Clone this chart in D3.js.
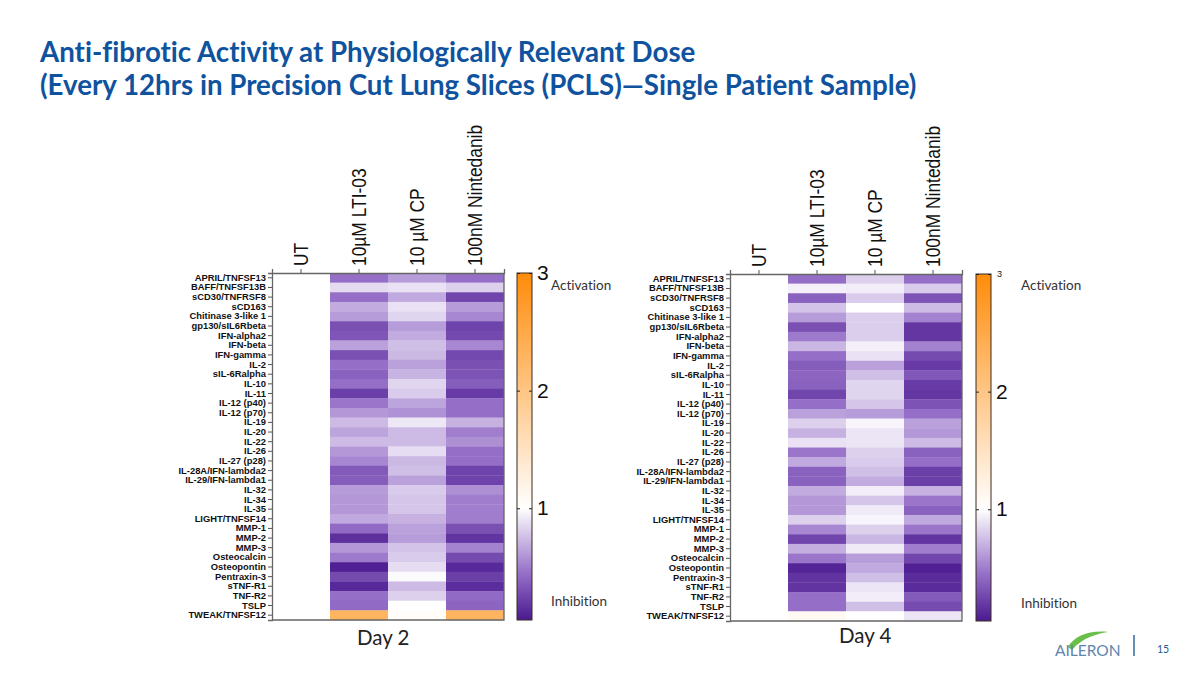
<!doctype html>
<meta charset="utf-8">

<style>
    html, body {
        margin: 0;
        background: #fff;
    }

    svg {
        display: block;
    }

    text {
        font-variant-ligatures: none;
    }

    .title {
        font-family: Lato, sans-serif;
        font-weight: 700;
        font-size: 27.7px;
        fill: #0f539f;
    }

    .note {
        font-family: Lato, sans-serif;
        font-size: 13.5px;
        fill: #333;
    }

    .day {
        font-family: Lato, sans-serif;
        font-size: 20.5px;
        fill: #222;
    }

    .rows text {
        font-family: "Liberation Sans", sans-serif;
        font-weight: 700;
        font-size: 9.4px;
        fill: #111;
    }

    .cols text {
        font-family: "Liberation Sans", sans-serif;
        font-size: 17.4px;
        fill: #111;
    }

    .bar-axis text {
        font-family: "Liberation Sans", sans-serif;
        font-size: 21px;
        fill: #111;
    }
</style>

<svg id="chart" width="1200" height="675"></svg>

<script src="https://d3js.org/d3.v7.min.js"></script>

<script>

let rowNames = ["APRIL/TNFSF13", "BAFF/TNFSF13B", "sCD30/TNFRSF8", "sCD163", "Chitinase 3-like 1",
    "gp130/sIL6Rbeta", "IFN-alpha2", "IFN-beta", "IFN-gamma", "IL-2", "sIL-6Ralpha", "IL-10", "IL-11",
    "IL-12 (p40)", "IL-12 (p70)", "IL-19", "IL-20", "IL-22", "IL-26", "IL-27 (p28)", "IL-28A/IFN-lambda2",
    "IL-29/IFN-lambda1", "IL-32", "IL-34", "IL-35", "LIGHT/TNFSF14", "MMP-1", "MMP-2", "MMP-3",
    "Osteocalcin", "Osteopontin", "Pentraxin-3", "sTNF-R1", "TNF-R2", "TSLP", "TWEAK/TNFSF12"]

let colNames = ["UT", "10µM LTI-03", "10 µM CP", "100nM Nintedanib"]

let barTicks = [1, 2, 3]

let ut = rowNames.map(() => 1)

let day2Lti = [.44, .86, .44, .68, .62, .30, .33, .64, .30, .44, .38, .44, .22, .47, .60, .74, .65, .74,
    .60, .54, .35, .36, .62, .60, .60, .67, .42, .15, .60, .49, .08, .28, .12, .44, .42, 2.3]
let day2Cp = [.62, .89, .67, .89, .84, .62, .68, .75, .73, .64, .71, .84, .80, .65, .58, .91, .74, .74,
    .87, .73, .75, .64, .80, .78, .78, .70, .64, .62, .77, .80, .87, .98, .74, .82, 1.0, 1.05]
let day2Nin = [.44, .82, .25, .62, .54, .24, .27, .54, .27, .30, .32, .36, .20, .44, .44, .70, .50, .57,
    .44, .44, .24, .24, .57, .50, .50, .50, .30, .17, .52, .28, .12, .22, .14, .42, .40, 2.3]

let day4Lti = [.44, .94, .38, .77, .62, .30, .49, .72, .44, .36, .40, .38, .25, .44, .64, .82, .70, .89,
    .47, .67, .38, .38, .68, .60, .60, .82, .54, .25, .69, .47, .10, .17, .17, .44, .44, 1.1]
let day4Cp = [.82, .93, .80, 1.0, .81, .81, .81, .94, .89, .64, .75, .84, .84, .78, .62, .96, .90, .90,
    .82, .80, .75, .68, .93, .78, .92, .96, .82, .72, .92, .62, .67, .75, .90, .93, .75, 1.0]
let day4Nin = [.44, .80, .32, .74, .52, .18, .18, .52, .28, .20, .34, .20, .18, .32, .44, .64, .60, .74,
    .38, .44, .22, .22, .70, .47, .38, .67, .47, .17, .50, .25, .08, .13, .13, .35, .28, .90]

let minValue = 0.05
let maxValue = 3

let colorDomain = [minValue, 0.45, 1, 3]

let color = d3.scaleLinear()
    .domain(colorDomain)
    .range(["#4a1a90", "#9670c8", "#ffffff", "#ff8c0a"])

let svg = d3.select("#chart")
let defs = svg.append("defs")

svg.append("text").attr("class", "title").attr("x", 40).attr("y", 62)
    .text("Anti-fibrotic Activity at Physiologically Relevant Dose")
svg.append("text").attr("class", "title").attr("x", 40).attr("y", 95)
    .text("(Every 12hrs in Precision Cut Lung Slices (PCLS)—Single Patient Sample)")

function drawHeatmap(opts) {
    let g = svg.append("g").attr("transform", "translate(" + opts.x + "," + opts.y + ")")
    let w = 232, h = 347

    let xScale = d3.scaleBand().domain(colNames).range([0, w])
    let yScale = d3.scaleBand().domain(rowNames).range([0, h])

    opts.columns.forEach((values, c) => {
        g.append("g").selectAll("rect")
            .data(values)
            .join("rect")
            .attr("x", xScale(colNames[c]))
            .attr("y", (d, i) => yScale(rowNames[i]))
            .attr("width", xScale.bandwidth())
            .attr("height", yScale.bandwidth() + 0.3)
            .attr("fill", d => color(d))
    })

    let rows = g.append("g").attr("class", "rows").call(d3.axisLeft(yScale).tickSize(4).tickPadding(2))
    rows.selectAll("line").attr("stroke", "#555")
    rows.select(".domain").attr("stroke", "#666").attr("stroke-width", 1.3)

    let cols = g.append("g").attr("class", "cols").call(d3.axisTop(xScale).tickSize(4))
    cols.selectAll("line").attr("stroke", "#555")
    cols.select(".domain").attr("stroke", "#666").attr("stroke-width", 1.3)
    // the pasted-in labels are stretched across their height
    cols.selectAll("text")
        .attr("transform", "rotate(-90) scale(1,1.2)")
        .attr("x", 7)
        .attr("y", 0)
        .attr("dy", "0.35em")
        .style("text-anchor", "start")

    // right and bottom edges of the frame
    g.append("path")
        .attr("d", "M" + w + ",0V" + h + "H0")
        .attr("fill", "none")
        .attr("stroke", "#666")
        .attr("stroke-width", 1.3)

    // colour bar
    let barX = opts.barX - opts.x
    let barW = 15
    let barScale = d3.scaleLinear().domain([minValue, maxValue]).range([h, 0])
    let gradId = "grad" + opts.x
    defs.append("linearGradient")
        .attr("id", gradId)
        .attr("x1", 0).attr("x2", 0).attr("y1", 1).attr("y2", 0)
        .selectAll("stop")
        .data(color.domain())
        .join("stop")
        .attr("offset", d => (d - minValue) / (maxValue - minValue))
        .attr("stop-color", d => color(d))

    g.append("rect")
        .attr("x", barX)
        .attr("width", barW)
        .attr("height", h)
        .attr("fill", "url(#" + gradId + ")")
        .attr("stroke", "#3a2a20")

    // ticks point into the bar from both edges
    let barAxis = g.append("g")
        .attr("class", "bar-axis")
        .attr("transform", "translate(" + (barX + barW) + ",0)")
        .call(d3.axisRight(barScale).tickValues(barTicks).tickFormat(d3.format("d")).tickSize(-3).tickPadding(5))
    barAxis.select(".domain").remove()
    barAxis.selectAll("line").attr("stroke", "#222")
    if (opts.smallTop) {
        barAxis.selectAll("text").filter(d => d == 3).style("font-size", "9px").attr("dx", 1)
    }
    let barAxisLeft = g.append("g")
        .attr("transform", "translate(" + barX + ",0)")
        .call(d3.axisRight(barScale).tickValues(barTicks).tickFormat("").tickSize(3))
    barAxisLeft.select(".domain").remove()
    barAxisLeft.selectAll("line").attr("stroke", "#222")

    svg.append("text").attr("class", "note").attr("x", opts.noteX).attr("y", opts.activationY).text("Activation")
    svg.append("text").attr("class", "note").attr("x", opts.noteX).attr("y", opts.inhibitionY).text("Inhibition")
    svg.append("text").attr("class", "day").attr("x", opts.dayX).attr("y", opts.dayY).text(opts.day)
}

drawHeatmap({
    x: 272, y: 273, barX: 517, noteX: 551, activationY: 290, inhibitionY: 606,
    dayX: 357, dayY: 645, day: "Day 2",
    columns: [ut, day2Lti, day2Cp, day2Nin]
})

drawHeatmap({
    x: 730, y: 274, barX: 976, noteX: 1021, activationY: 290, inhibitionY: 608,
    dayX: 839, dayY: 643, day: "Day 4", smallTop: true,
    columns: [ut, day4Lti, day4Cp, day4Nin]
})

// footer: logo and page number
let footer = svg.append("g")
footer.append("path")
    .attr("d", "M1068,647C1074,636 1090,630 1108,632C1096,634 1082,638 1072,650Z")
    .attr("fill", "#6abf4b")
footer.append("text")
    .attr("x", 1055).attr("y", 656)
    .style("font-family", "Lato, sans-serif").style("font-size", "15.5px")
    .attr("fill", "#5f86ad")
    .text("AILERON")
footer.append("line")
    .attr("x1", 1134).attr("x2", 1134).attr("y1", 635).attr("y2", 656)
    .attr("stroke", "#2f6a9f").attr("stroke-width", 1.5)
footer.append("text")
    .attr("x", 1157).attr("y", 653)
    .style("font-family", "Lato, sans-serif").style("font-size", "10.5px")
    .attr("fill", "#1f5a96")
    .text("15")

</script>
